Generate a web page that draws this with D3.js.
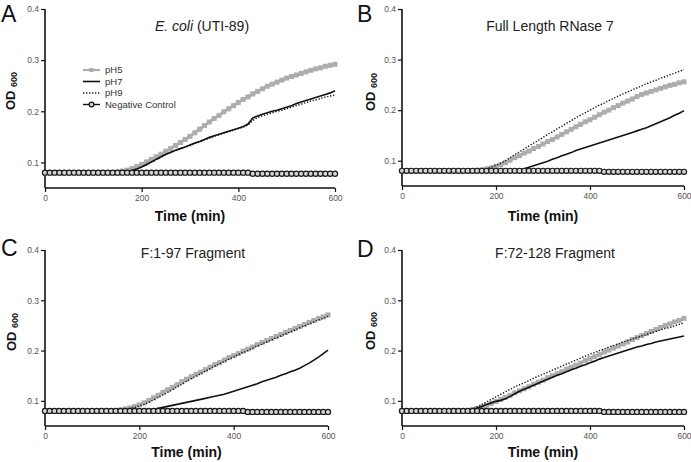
<!DOCTYPE html>
<html><head><meta charset="utf-8">
<script src="https://cdn.jsdelivr.net/npm/d3@7"></script>
<style>body{margin:0;background:#fff}svg{display:block;font-family:"Liberation Sans",Arial,Helvetica,sans-serif}</style>
</head><body><svg id="c" width="691" height="462"></svg>
<script>
// ---- data ----
const times = d3.range(0, 601, 10);           // minutes
const yTicks = [0.1, 0.2, 0.3, 0.4];
const xTicks = [0, 200, 400, 600];
const seriesNames = ["pH5", "pH7", "pH9", "Negative Control"];
const panelLetters = ["A", "B", "C", "D"];
const panelTitles = [["E. coli", " (UTI-89)"], ["", "Full Length RNase 7"], ["", "F:1-97 Fragment"], ["", "F:72-128 Fragment"]];

const A_pH5 = [0.08,0.08,0.08,0.08,0.08,0.08,0.08,0.08,0.08,0.08,0.08,0.08,0.08,0.08,0.08,
  0.081,0.083,0.085,0.088,0.092,0.096,0.101,0.106,0.111,0.116,0.122,0.127,0.133,0.139,0.145,0.151,0.158,0.165,0.172,0.179,0.186,0.192,0.199,0.205,0.211,0.217,0.223,0.228,0.234,0.239,0.244,0.249,0.253,0.257,0.261,0.265,0.268,0.271,0.274,0.277,0.28,0.283,0.285,0.288,0.29,0.292];
const A_pH7 = [0.08,0.08,0.08,0.08,0.08,0.08,0.08,0.08,0.08,0.08,0.08,0.08,0.08,0.08,0.08,0.08,
  0.081,0.082,0.084,0.087,0.091,0.096,0.101,0.106,0.111,0.116,0.12,0.124,0.127,0.13,0.134,0.138,0.141,0.145,0.149,0.152,0.155,0.158,0.161,0.164,0.167,0.17,0.175,0.187,0.191,0.194,0.197,0.2,0.202,0.205,0.208,0.211,0.215,0.218,0.221,0.224,0.227,0.23,0.233,0.236,0.24];
const A_pH9 = [0.08,0.08,0.08,0.08,0.08,0.08,0.08,0.08,0.08,0.08,0.08,0.08,0.08,0.08,0.08,0.08,
  0.081,0.082,0.084,0.087,0.091,0.095,0.1,0.105,0.11,0.115,0.119,0.123,0.127,0.13,0.133,0.137,0.14,0.144,0.147,0.151,0.154,0.157,0.16,0.163,0.166,0.169,0.173,0.182,0.188,0.191,0.194,0.197,0.2,0.202,0.205,0.208,0.211,0.214,0.217,0.22,0.222,0.225,0.228,0.23,0.232];

const B_pH5 = [0.08,0.08,0.08,0.08,0.08,0.08,0.08,0.08,0.08,0.08,0.08,0.08,0.08,0.08,0.08,0.08,
  0.081,0.082,0.084,0.086,0.089,0.092,0.096,0.101,0.106,0.11,0.115,0.119,0.124,0.128,0.133,0.138,0.142,0.147,0.152,0.157,0.162,0.167,0.172,0.177,0.181,0.186,0.191,0.196,0.2,0.205,0.209,0.214,0.218,0.222,0.227,0.231,0.234,0.237,0.24,0.243,0.246,0.249,0.251,0.254,0.256];
const B_pH7 = [0.08,0.08,0.08,0.08,0.08,0.08,0.08,0.08,0.08,0.08,0.08,0.08,0.08,0.08,0.08,0.08,0.08,0.08,0.08,0.08,0.08,0.08,0.08,0.08,
  0.081,0.082,0.084,0.087,0.09,0.093,0.096,0.099,0.103,0.106,0.11,0.113,0.116,0.12,0.123,0.126,0.129,0.132,0.135,0.138,0.141,0.144,0.147,0.15,0.153,0.156,0.159,0.162,0.165,0.169,0.173,0.177,0.181,0.185,0.19,0.194,0.199];
const B_pH9 = [0.08,0.08,0.08,0.08,0.08,0.08,0.08,0.08,0.08,0.08,0.08,0.08,0.08,0.08,0.08,0.08,
  0.081,0.082,0.084,0.087,0.091,0.095,0.1,0.106,0.112,0.118,0.123,0.129,0.135,0.14,0.146,0.152,0.157,0.163,0.168,0.174,0.179,0.185,0.19,0.195,0.2,0.205,0.21,0.214,0.219,0.223,0.228,0.232,0.236,0.24,0.244,0.248,0.252,0.256,0.259,0.263,0.266,0.27,0.273,0.277,0.28];

const C_pH5 = [0.08,0.08,0.08,0.08,0.08,0.08,0.08,0.08,0.08,0.08,0.08,0.08,0.08,0.08,0.08,
  0.081,0.082,0.084,0.086,0.089,0.092,0.096,0.101,0.106,0.111,0.117,0.122,0.127,0.132,0.138,0.143,0.148,0.153,0.157,0.162,0.167,0.172,0.176,0.181,0.186,0.19,0.194,0.199,0.203,0.207,0.212,0.216,0.22,0.224,0.228,0.232,0.236,0.24,0.244,0.248,0.252,0.256,0.26,0.264,0.267,0.271];
const C_pH7 = [0.08,0.08,0.08,0.08,0.08,0.08,0.08,0.08,0.08,0.08,0.08,0.08,0.08,0.08,0.08,0.08,0.08,0.08,0.08,0.08,0.08,
  0.081,0.082,0.083,0.085,0.087,0.089,0.091,0.093,0.095,0.097,0.099,0.101,0.103,0.105,0.107,0.109,0.111,0.113,0.116,0.119,0.122,0.125,0.128,0.131,0.134,0.138,0.141,0.144,0.147,0.151,0.154,0.158,0.161,0.165,0.17,0.175,0.181,0.187,0.194,0.201];
const C_pH9 = [0.08,0.08,0.08,0.08,0.08,0.08,0.08,0.08,0.08,0.08,0.08,0.08,0.08,0.08,0.08,0.08,
  0.081,0.083,0.085,0.087,0.09,0.093,0.097,0.102,0.107,0.112,0.117,0.122,0.128,0.133,0.139,0.144,0.149,0.154,0.159,0.164,0.169,0.174,0.178,0.183,0.187,0.192,0.196,0.2,0.205,0.209,0.213,0.217,0.221,0.225,0.229,0.233,0.237,0.241,0.245,0.249,0.253,0.257,0.261,0.264,0.268];

const D_pH5 = [0.08,0.08,0.08,0.08,0.08,0.08,0.08,0.08,0.08,0.08,0.08,0.08,0.08,0.08,
  0.081,0.083,0.085,0.088,0.091,0.095,0.099,0.103,0.107,0.111,0.116,0.12,0.124,0.128,0.133,0.137,0.141,0.146,0.15,0.154,0.158,0.163,0.167,0.171,0.175,0.18,0.184,0.188,0.192,0.197,0.201,0.205,0.209,0.213,0.217,0.222,0.226,0.23,0.234,0.238,0.242,0.246,0.25,0.253,0.257,0.26,0.264];
const D_pH7 = [0.08,0.08,0.08,0.08,0.08,0.08,0.08,0.08,0.08,0.08,0.08,0.08,0.08,0.08,
  0.081,0.083,0.086,0.089,0.093,0.096,0.099,0.101,0.104,0.109,0.114,0.119,0.123,0.127,0.131,0.135,0.139,0.143,0.147,0.151,0.154,0.158,0.162,0.165,0.169,0.172,0.176,0.179,0.183,0.186,0.189,0.192,0.195,0.198,0.201,0.204,0.207,0.209,0.212,0.214,0.217,0.219,0.221,0.223,0.225,0.227,0.229];
const D_pH9 = [0.08,0.08,0.08,0.08,0.08,0.08,0.08,0.08,0.08,0.08,0.08,0.08,0.08,0.08,
  0.082,0.084,0.088,0.093,0.098,0.103,0.108,0.113,0.118,0.123,0.128,0.132,0.136,0.14,0.145,0.149,0.153,0.157,0.161,0.165,0.169,0.173,0.177,0.181,0.185,0.189,0.193,0.196,0.2,0.203,0.207,0.21,0.213,0.217,0.22,0.223,0.226,0.229,0.232,0.235,0.238,0.241,0.244,0.246,0.249,0.252,0.255];

const negControl = [0.08,0.08,0.08,0.08,0.08,0.08,0.08,0.08,0.08,0.08,0.08,0.08,0.08,0.08,0.08,0.08,0.08,0.08,0.08,0.08,0.08,0.08,0.08,0.08,0.08,0.08,0.08,0.08,0.08,0.08,0.08,0.08,0.08,0.08,0.08,0.08,0.08,0.08,0.08,0.08,0.08,0.08,0.08,
  0.078,0.078,0.078,0.078,0.078,0.078,0.078,0.078,0.078,0.078,0.078,0.078,0.078,0.078,0.078,0.078,0.078,0.078];

const panelData = [
  [A_pH5, A_pH7, A_pH9, negControl],
  [B_pH5, B_pH7, B_pH9, negControl],
  [C_pH5, C_pH7, C_pH9, negControl],
  [D_pH5, D_pH7, D_pH9, negControl]
];

// ---- layout (positions only) ----
const layout = [
  {x0:45,  x1:335, yT:9,   yB:188, lx:1,   ly:22,  tx:202, ty:31,  labX:15,  labY:91,  time:221},
  {x0:402, x1:684, yT:9,   yB:186, lx:357, ly:22,  tx:550, ty:31,  labX:375, labY:92,  time:221},
  {x0:45,  x1:328, yT:250, yB:426, lx:1,   ly:256, tx:193, ty:258, labX:16,  labY:332, time:457},
  {x0:402, x1:684, yT:250, yB:426, lx:357, ly:257, tx:555, ty:258, labX:375, labY:331, time:457}
];
const grey = "#adadad";
const svg = d3.select("#c");

layout.forEach((L, i) => {
  const x = d3.scaleLinear().domain([0, 600]).range([L.x0, L.x1]);
  const y = d3.scaleLinear().domain([0.05, 0.4]).range([L.yB, L.yT]);
  const g = svg.append("g");

  // axes
  const ya = g.append("g").attr("transform", `translate(${L.x0},0)`)
    .call(d3.axisLeft(y).tickValues(yTicks).tickSize(4).tickPadding(2).tickFormat(d3.format(".1f")));
  const xa = g.append("g").attr("transform", `translate(0,${L.yB})`)
    .call(d3.axisBottom(x).tickValues(xTicks).tickSize(4).tickPadding(3).tickFormat(d3.format("d")));
  [ya, xa].forEach(a => {
    a.select(".domain").attr("stroke", "#111").attr("stroke-width", 1.6);
    a.selectAll(".tick line").attr("stroke", "#111").attr("stroke-width", 1.2);
    a.selectAll(".tick text").attr("fill", "#555").attr("font-size", 8.5)
      .attr("font-family", '"Liberation Sans",Arial,sans-serif');
  });
  ya.select(".domain").attr("d", `M0,${L.yB}V${L.yT}`);
  xa.select(".domain").attr("d", `M${L.x0},0H${L.x1}`);

  const data = panelData[i];
  const pts = arr => arr.map((v, k) => [times[k], v]);
  const line = d3.line().x(d => x(d[0])).y(d => y(d[1]));

  // pH5 grey with squares
  const p5 = pts(data[0]);
  g.append("path").attr("d", line(p5)).attr("fill", "none").attr("stroke", grey).attr("stroke-width", 3);
  g.selectAll(".sq").data(p5).enter().append("rect")
    .attr("x", d => x(d[0]) - 2.5).attr("y", d => y(d[1]) - 2.5).attr("width", 5).attr("height", 5).attr("fill", grey);
  // pH7 solid
  g.append("path").attr("d", line(pts(data[1]))).attr("fill", "none").attr("stroke", "#111").attr("stroke-width", 1.6);
  // pH9 dotted
  g.append("path").attr("d", line(pts(data[2]))).attr("fill", "none").attr("stroke", "#111")
    .attr("stroke-width", 1.4).attr("stroke-dasharray", "1.3,1.7");
  // negative control
  const nc = pts(data[3]);
  g.append("path").attr("d", line(nc)).attr("fill", "none").attr("stroke", "#111").attr("stroke-width", 1.2);
  g.selectAll(".ci").data(nc).enter().append("circle")
    .attr("cx", d => x(d[0])).attr("cy", d => y(d[1])).attr("r", 2.6)
    .attr("fill", "#d4d4d4").attr("stroke", "#1a1a1a").attr("stroke-width", 1.2);

  // panel letter
  svg.append("text").attr("x", L.lx).attr("y", L.ly).attr("font-size", 23).attr("fill", "#111").text(panelLetters[i]);
  // title
  const t = svg.append("text").attr("x", L.tx).attr("y", L.ty).attr("text-anchor", "middle")
    .attr("font-size", 14).attr("fill", "#222");
  if (panelTitles[i][0]) t.append("tspan").attr("font-style", "italic").text(panelTitles[i][0]);
  t.append("tspan").text(panelTitles[i][1]);
  // y label
  const yl = svg.append("text").attr("transform", `translate(${L.labX},${L.labY}) rotate(-90)`)
    .attr("text-anchor", "middle").attr("font-weight", "bold").attr("font-size", 13).attr("fill", "#111");
  yl.append("tspan").text("OD ");
  yl.append("tspan").attr("font-size", 9).attr("dy", 2).text("600");
  // x label
  svg.append("text").attr("x", (L.x0 + L.x1) / 2).attr("y", L.time).attr("text-anchor", "middle")
    .attr("font-weight", "bold").attr("font-size", 14).attr("fill", "#111").text("Time (min)");

  // legend (panel A only)
  if (i === 0) {
    const rows = [70, 81.5, 93, 104.5];
    const lg = svg.append("g");
    rows.forEach((ry, r) => {
      if (r === 0) {
        lg.append("line").attr("x1", 83).attr("x2", 100).attr("y1", ry).attr("y2", ry).attr("stroke", grey).attr("stroke-width", 2.2);
        lg.append("rect").attr("x", 89.5).attr("y", ry - 2).attr("width", 4).attr("height", 4).attr("fill", grey);
      } else if (r === 1) {
        lg.append("line").attr("x1", 83).attr("x2", 100).attr("y1", ry).attr("y2", ry).attr("stroke", "#111").attr("stroke-width", 1.6);
      } else if (r === 2) {
        lg.append("line").attr("x1", 83).attr("x2", 100).attr("y1", ry).attr("y2", ry).attr("stroke", "#111").attr("stroke-width", 1.4).attr("stroke-dasharray", "1.3,1.7");
      } else {
        lg.append("line").attr("x1", 83).attr("x2", 100).attr("y1", ry).attr("y2", ry).attr("stroke", "#111").attr("stroke-width", 1.4);
        lg.append("circle").attr("cx", 91.5).attr("cy", ry).attr("r", 2.4).attr("fill", "#d4d4d4").attr("stroke", "#111").attr("stroke-width", 1.2);
      }
      lg.append("text").attr("x", 105).attr("y", ry + 3.3).attr("font-size", 9.5).attr("fill", "#333").text(seriesNames[r]);
    });
  }
});
</script>
</body></html>
